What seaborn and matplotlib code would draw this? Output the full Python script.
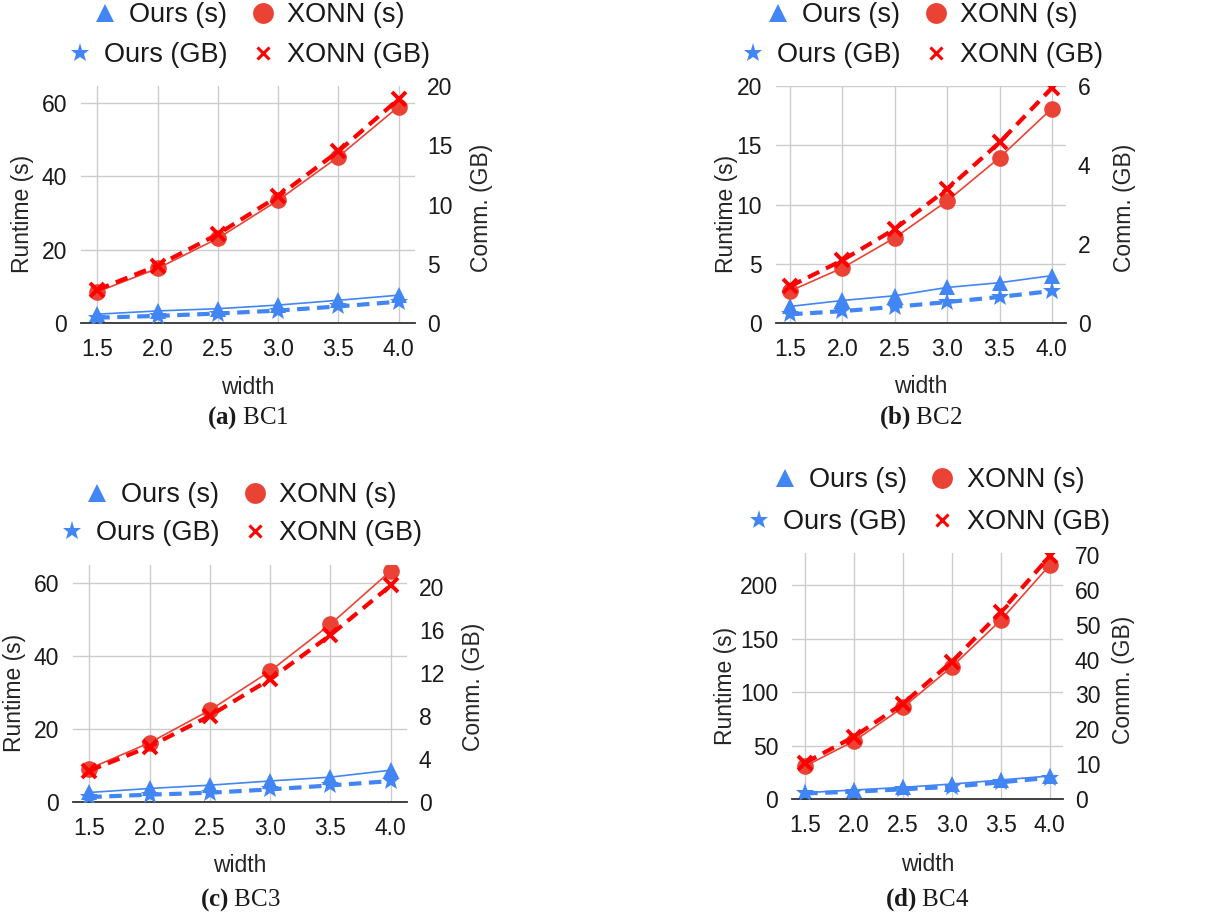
import numpy as np
import matplotlib
matplotlib.use("Agg")
import matplotlib.pyplot as plt
from matplotlib.lines import Line2D
import seaborn as sns

# data
width = [1.5, 2.0, 2.5, 3.0, 3.5, 4.0]

bc1_ours_s = [2.4, 3.3, 3.9, 4.9, 6.2, 7.6]
bc1_xonn_s = [8.5, 14.9, 23.1, 33.5, 45.4, 59.1]
bc1_ours_gb = [0.45, 0.6, 0.8, 1.05, 1.4, 1.8]
bc1_xonn_gb = [2.8, 4.85, 7.5, 10.7, 14.5, 18.9]

bc2_ours_s = [1.4, 1.9, 2.3, 3.0, 3.4, 4.0]
bc2_xonn_s = [2.7, 4.65, 7.2, 10.3, 13.95, 18.1]
bc2_ours_gb = [0.22, 0.30, 0.41, 0.53, 0.66, 0.81]
bc2_xonn_gb = [0.93, 1.59, 2.38, 3.39, 4.57, 5.95]

bc3_ours_s = [2.6, 3.7, 4.6, 5.75, 6.8, 8.7]
bc3_xonn_s = [9.1, 16.2, 25.1, 35.8, 48.6, 63.2]
bc3_ours_gb = [0.46, 0.68, 0.86, 1.17, 1.54, 1.94]
bc3_xonn_gb = [2.9, 5.15, 8.0, 11.4, 15.5, 20.1]

bc4_ours_s = [5.9, 8.4, 10.9, 14.0, 17.8, 21.5]
bc4_xonn_s = [30.8, 54.2, 85.7, 123.7, 167.3, 218.7]
bc4_ours_gb = [1.6, 2.1, 2.8, 3.5, 4.8, 6.1]
bc4_xonn_gb = [10.4, 17.9, 27.4, 39.4, 53.7, 69.7]

series_labels = ["Ours (s)", "XONN (s)", "Ours (GB)", "XONN (GB)"]
captions = ["a", "b", "c", "d"]
names = ["BC1", "BC2", "BC3", "BC4"]

BLUE = "#4285F4"
RED = "#EA4335"
RED2 = "#FF0000"
TXT = "#1a1a1a"

sns.set_theme(style="white")
plt.rcParams["font.family"] = ["Liberation Sans", "DejaVu Sans"]
plt.rcParams["mathtext.fontset"] = "custom"
plt.rcParams["mathtext.rm"] = "Liberation Serif"
plt.rcParams["mathtext.bf"] = "Liberation Serif:bold"
plt.rcParams["text.color"] = TXT

W, H = 1221, 917
fig = plt.figure(figsize=(W / 100, H / 100), dpi=100)


def rect(left, right, top, bottom):
    return [left / W, (H - bottom) / H, (right - left) / W, (bottom - top) / H]


panels = [
    dict(rect=rect(81, 415, 86, 323), data=(bc1_ours_s, bc1_xonn_s, bc1_ours_gb, bc1_xonn_gb),
         lim_l=64.7, ticks_l=[0, 20, 40, 60], lim_r=20, ticks_r=[0, 5, 10, 15, 20],
         leg_y=(15, 55), cap_y=418, ylx=(-0.174, 1.20), xly=-0.274),
    dict(rect=rect(776, 1066, 86, 323), data=(bc2_ours_s, bc2_xonn_s, bc2_ours_gb, bc2_xonn_gb),
         lim_l=20, ticks_l=[0, 5, 10, 15, 20], lim_r=6, ticks_r=[0, 2, 4, 6],
         leg_y=(15, 55), cap_y=418, ylx=(-0.172, 1.20), xly=-0.27),
    dict(rect=rect(73, 407, 565, 802), data=(bc3_ours_s, bc3_xonn_s, bc3_ours_gb, bc3_xonn_gb),
         lim_l=64.8, ticks_l=[0, 20, 40, 60], lim_r=22.0, ticks_r=[0, 4, 8, 12, 16, 20],
         leg_y=(495, 533), cap_y=900, ylx=(-0.174, 1.20), xly=-0.266),
    dict(rect=rect(792, 1063, 553, 799), data=(bc4_ours_s, bc4_xonn_s, bc4_ours_gb, bc4_xonn_gb),
         lim_l=230, ticks_l=[0, 50, 100, 150, 200], lim_r=70.6, ticks_r=[0, 10, 20, 30, 40, 50, 60, 70],
         leg_y=(480, 522), cap_y=900, ylx=(-0.244, 1.225), xly=-0.268),
]

handles = [
    Line2D([], [], color=BLUE, marker="^", linestyle="none", markersize=13, markeredgewidth=0),
    Line2D([], [], color=RED, marker="o", linestyle="none", markersize=15, markeredgewidth=0),
    Line2D([], [], color=BLUE, marker="*", linestyle="none", markersize=14, markeredgewidth=0),
    Line2D([], [], color=RED2, marker="x", linestyle="none", markersize=9, markeredgewidth=2.2),
]

for i, p in enumerate(panels):
    ours_s, xonn_s, ours_gb, xonn_gb = p["data"]
    ax = fig.add_axes(p["rect"])
    ax2 = ax.twinx()

    sns.lineplot(x=width, y=ours_s, ax=ax, color=BLUE, marker="^", markersize=11,
                 markeredgewidth=0, markeredgecolor=BLUE, linewidth=1.2)
    sns.lineplot(x=width, y=xonn_s, ax=ax, color=RED, marker="o", markersize=12,
                 markeredgewidth=0, markeredgecolor=RED, linewidth=1.2)
    sns.lineplot(x=width, y=ours_gb, ax=ax2, color=BLUE, marker="*", markersize=14,
                 markeredgewidth=0, markeredgecolor=BLUE, linewidth=3, linestyle=(0, (3, 1.8)))
    sns.lineplot(x=width, y=xonn_gb, ax=ax2, color=RED2, marker="x", markersize=10,
                 markeredgewidth=2.8, markeredgecolor=RED2, linewidth=3, linestyle=(0, (3, 1.8)))

    ax.set_xlim(1.365, 4.135)
    ax.set_ylim(0, p["lim_l"])
    ax2.set_ylim(0, p["lim_r"])
    ax.set_xticks(width)
    ax.set_xticklabels([f"{w:.1f}" for w in width])
    ax.set_yticks(p["ticks_l"])
    ax2.set_yticks(p["ticks_r"])

    ax.grid(True, axis="both", color="#cccccc", linewidth=1.0)
    ax.set_axisbelow(True)
    for s in ["left", "right", "top"]:
        ax.spines[s].set_visible(False)
    for s in ax2.spines.values():
        s.set_visible(False)
    ax.spines["bottom"].set_color("#333333")
    ax.spines["bottom"].set_linewidth(1.3)
    ax.spines["bottom"].set_zorder(3)

    ax.tick_params(axis="x", length=0, labelsize=16.5, pad=11, labelcolor=TXT)
    ax.tick_params(axis="y", length=0, labelsize=16.5, pad=10, labelcolor=TXT)
    ax2.tick_params(axis="y", length=0, labelsize=16.5, pad=8.5, labelcolor=TXT)

    ax.set_xlabel("width", fontsize=16.5)
    ax.set_ylabel("Runtime (s)", fontsize=16.5)
    ax2.set_ylabel("Comm. (GB)", fontsize=16.5)
    ax.xaxis.set_label_coords(0.5, p["xly"])
    ax.yaxis.set_label_coords(p["ylx"][0], 0.46)
    ax2.yaxis.set_label_coords(p["ylx"][1], 0.485)
    ax.xaxis.label.set_verticalalignment("center")
    ax.yaxis.label.set_verticalalignment("center")
    ax2.yaxis.label.set_verticalalignment("center")

    bb = p["rect"]
    cx = bb[0] + bb[2] / 2
    for row, idx in enumerate([(0, 1), (2, 3)]):
        fig.legend(handles=[handles[j] for j in idx], labels=[series_labels[j] for j in idx],
                   loc="center", bbox_to_anchor=(cx, (H - p["leg_y"][row]) / H),
                   ncol=2, frameon=False, fontsize=19.5, handlelength=1.0,
                   handletextpad=0.4, columnspacing=0.8, borderpad=0, borderaxespad=0)

    fig.text(cx, (H - p["cap_y"]) / H, r"$\mathbf{(" + captions[i] + r")}$ " + names[i],
             family="Liberation Serif", fontsize=18, ha="center", va="center")

fig.savefig("out.png", dpi=100)
